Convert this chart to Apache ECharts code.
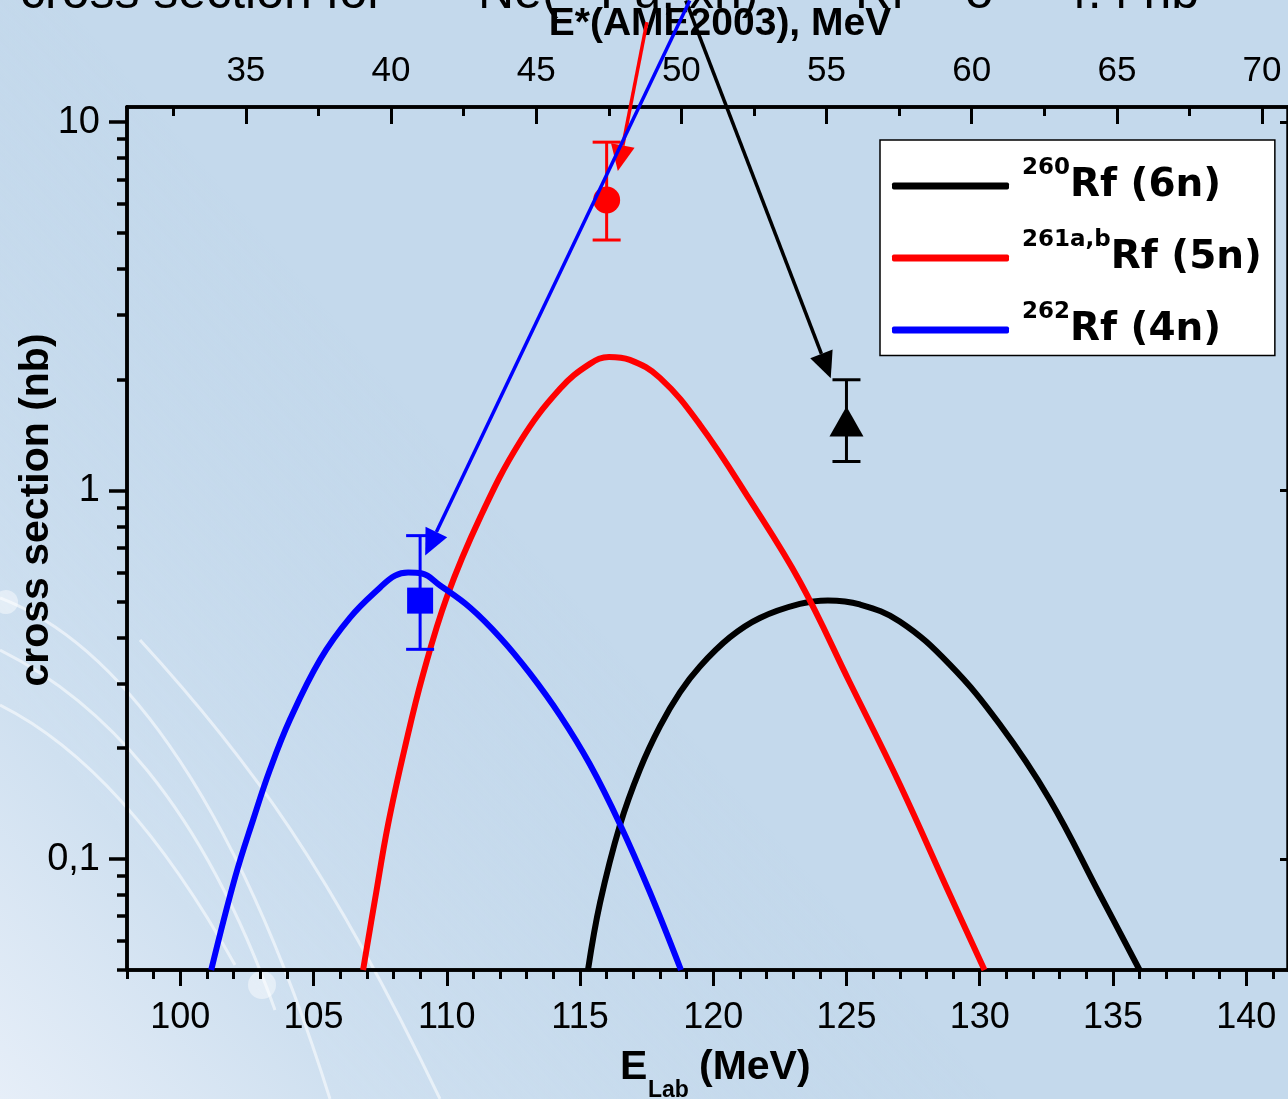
<!DOCTYPE html>
<html>
<head>
<meta charset="utf-8">
<script src="https://cdn.jsdelivr.net/npm/echarts@6/dist/echarts.min.js"></script>
<style>
html,body{margin:0;padding:0;background:#c4d9ec;}
#c{width:1288px;height:1099px;}
</style>
</head>
<body>
<div id="c"></div>
<script>
// ---------- data ----------
const energy6n = [115.3, 115.75, 116.5, 117.25, 118.0, 118.75, 119.5, 120.62, 121.75, 123.25, 124.3, 125.5, 127.0, 128.87, 130.75, 132.62, 134.5, 136.0];
const sigma6n  = [0.05, 0.076, 0.1237, 0.1753, 0.2293, 0.2836, 0.3334, 0.3996, 0.4512, 0.4926, 0.5035, 0.4911, 0.4416, 0.3376, 0.2322, 0.1454, 0.0804, 0.05];

const energy5n = [106.86, 107.31, 107.8, 108.44, 109.11, 110.01, 111.25, 112.75, 114.25, 115.37, 116.09, 116.87, 118.0, 119.5, 121.37, 123.25, 125.12, 127.0, 128.87, 130.18];
const sigma5n  = [0.05, 0.0779, 0.1244, 0.2024, 0.3172, 0.5161, 0.8451, 1.358, 1.89, 2.209, 2.307, 2.265, 2.024, 1.51, 0.945, 0.5667, 0.302, 0.1597, 0.0804, 0.05];

const energy4n = [101.16, 102.06, 102.74, 103.37, 104.12, 105.25, 106.37, 107.5, 108.06, 108.55, 109.07, 109.75, 110.87, 112.0, 113.12, 114.25, 115.37, 116.5, 117.62, 118.79];
const sigma4n  = [0.05, 0.0894, 0.1283, 0.1753, 0.2395, 0.3483, 0.4525, 0.5461, 0.588, 0.5995, 0.5957, 0.5529, 0.4819, 0.3996, 0.3192, 0.2456, 0.1809, 0.1244, 0.0814, 0.05];

// experimental points: 6n, 5n, 4n
const exptEnergy = [125.0, 116.0, 109.0];
const exptSigma  = [1.54, 6.15, 0.503];
const exptLow    = [1.2, 4.79, 0.371];
const exptHigh   = [2.0, 8.83, 0.755];

// annotation arrows (data units): from -> to
const arrowFrom = [[118.97, 21.4], [117.51, 18.7], [119.12, 21.4]];
const arrowTo   = [[124.41, 2.02], [116.42, 7.37], [109.19, 0.667]];

const seriesNames = ['260Rf (6n)', '261a,bRf (5n)', '262Rf (4n)'];
const legendSup   = ['260', '261a,b', '262'];
const legendMain  = ['Rf (6n)', 'Rf (5n)', 'Rf (4n)'];

const eLabMajor = [100, 105, 110, 115, 120, 125, 130, 135, 140];
const eStarMajor = [35, 40, 45, 50, 55, 60, 65, 70];
const yMajor = [0.1, 1, 10];

// ---------- derived ----------
const eLabMinor = []; for (let v = 98; v <= 141; v++) eLabMinor.push(v);
const eStarMinor = []; for (let v = 32.5; v <= 70; v += 5) eStarMinor.push(v);
const yMinor = []; [0.01, 0.1, 1].forEach(d => { for (let k = 2; k <= 9; k++) yMinor.push(+(k * d).toPrecision(3)); });
const zip = (a, b) => a.map((v, i) => [v, b[i]]);

const colors = ['#000000', '#ff0000', '#0000ff'];
const FONT = 'Liberation Sans, Arial, Helvetica, sans-serif';
const LFONT = 'DejaVu Sans, Liberation Sans, Arial, sans-serif';

const X_MIN = 98, X_MAX = 141.57, XS_MIN = 30.906, XS_MAX = 70.894, Y_MIN = 0.05, Y_MAX = 11;

const chart = echarts.init(document.getElementById('c'), null, {renderer: 'canvas'});

function base() {
  return {
    axisLine: {show: true, lineStyle: {color: '#000', width: 3.5}},
    splitLine: {show: false},
    axisLabel: {show: false},
    axisTick: {show: false}
  };
}
function ax(core, extra) { return Object.assign(core, base(), extra); }

const option = {
  animation: false,
  backgroundColor: 'transparent',
  grid: {left: 127, top: 107, width: 1162, height: 863, containLabel: false},
  xAxis: [
    ax({type: 'value', min: X_MIN, max: X_MAX, position: 'bottom'}, {
      axisTick: {show: true, inside: false, length: 16, lineStyle: {color: '#000', width: 3}, customValues: eLabMajor},
      axisLabel: {show: true, margin: 30, fontSize: 36, color: '#000', fontFamily: FONT, customValues: eLabMajor}
    }),
    ax({type: 'value', min: X_MIN, max: X_MAX, position: 'bottom'}, {
      axisTick: {show: true, inside: false, length: 9, lineStyle: {color: '#000', width: 3}, customValues: eLabMinor}
    }),
    ax({type: 'value', min: XS_MIN, max: XS_MAX, position: 'top'}, {
      axisTick: {show: true, inside: true, length: 17, lineStyle: {color: '#000', width: 3}, customValues: eStarMajor},
      axisLabel: {show: true, margin: 18, fontSize: 35, color: '#000', fontFamily: FONT, customValues: eStarMajor}
    }),
    ax({type: 'value', min: XS_MIN, max: XS_MAX, position: 'top'}, {
      axisTick: {show: true, inside: true, length: 9, lineStyle: {color: '#000', width: 3}, customValues: eStarMinor}
    })
  ],
  yAxis: [
    ax({type: 'log', logBase: 10, min: Y_MIN, max: Y_MAX, position: 'left'}, {
      axisTick: {show: true, inside: false, length: 18, lineStyle: {color: '#000', width: 3.5}, customValues: yMajor},
      axisLabel: {show: true, margin: 27, fontSize: 38, color: '#000', fontFamily: FONT, customValues: yMajor,
        formatter: v => String(v).replace('.', ',')}
    }),
    ax({type: 'log', logBase: 10, min: Y_MIN, max: Y_MAX, position: 'left'}, {
      axisTick: {show: true, inside: false, length: 10, lineStyle: {color: '#000', width: 3.5}, customValues: yMinor}
    }),
    ax({type: 'log', logBase: 10, min: Y_MIN, max: Y_MAX, position: 'right'}, {
      axisTick: {show: true, inside: true, length: 8, lineStyle: {color: '#000', width: 3}, customValues: yMajor}
    })
  ],
  legend: {
    data: seriesNames,
    orient: 'vertical',
    left: 880, top: 140,
    backgroundColor: '#ffffff',
    borderColor: '#000', borderWidth: 1.5,
    padding: [17, 13, 6, 12],
    itemGap: 23.5,
    itemWidth: 117, itemHeight: 7,
    icon: 'roundRect',
    selectedMode: false,
    formatter: name => {
      const i = seriesNames.indexOf(name);
      return '{sup|' + legendSup[i] + '}{main|' + legendMain[i] + '}';
    },
    textStyle: {
      fontFamily: LFONT,
      rich: {
        sup: {fontSize: 23, fontWeight: 'bold', color: '#000', fontFamily: LFONT, verticalAlign: 'top', lineHeight: 22, padding: [0, 0, 0, 8]},
        main: {fontSize: 39, fontWeight: 'bold', color: '#000', fontFamily: LFONT, lineHeight: 58}
      }
    }
  },
  series: [
    {name: seriesNames[0], type: 'line', data: zip(energy6n, sigma6n), smooth: 0.4, showSymbol: false,
      lineStyle: {color: colors[0], width: 6}, itemStyle: {color: colors[0]}, z: 3},
    {name: seriesNames[1], type: 'line', data: zip(energy5n, sigma5n), smooth: 0.4, showSymbol: false,
      lineStyle: {color: colors[1], width: 6}, itemStyle: {color: colors[1]}, z: 3},
    {name: seriesNames[2], type: 'line', data: zip(energy4n, sigma4n), smooth: 0.4, showSymbol: false,
      lineStyle: {color: colors[2], width: 6}, itemStyle: {color: colors[2]}, z: 3},
    {
      name: 'errors', type: 'custom', z: 5,
      data: exptEnergy.map((e, i) => [e, exptLow[i], exptHigh[i]]),
      encode: {x: 0, y: [1, 2]},
      renderItem: (params, api) => {
        const x = api.value(0);
        const lo = api.coord([x, api.value(1)]);
        const hi = api.coord([x, api.value(2)]);
        const c = colors[params.dataIndex];
        const hw = 14;
        const st = {stroke: c, lineWidth: 3};
        return {type: 'group', children: [
          {type: 'line', shape: {x1: lo[0], y1: lo[1], x2: hi[0], y2: hi[1]}, style: st},
          {type: 'line', shape: {x1: lo[0] - hw, y1: lo[1], x2: lo[0] + hw, y2: lo[1]}, style: st},
          {type: 'line', shape: {x1: hi[0] - hw, y1: hi[1], x2: hi[0] + hw, y2: hi[1]}, style: st}
        ]};
      }
    },
    {
      name: 'expt', type: 'scatter', z: 6,
      itemStyle: {opacity: 1},
      data: [
        {value: [exptEnergy[0], exptSigma[0]], symbol: 'triangle', symbolSize: [34, 30], itemStyle: {color: colors[0], opacity: 1}},
        {value: [exptEnergy[1], exptSigma[1]], symbol: 'circle', symbolSize: 27, itemStyle: {color: colors[1], opacity: 1}},
        {value: [exptEnergy[2], exptSigma[2]], symbol: 'rect', symbolSize: 26, itemStyle: {color: colors[2], opacity: 1}}
      ]
    }
  ],
  graphic: []
};

chart.setOption(option);

// ---------- decorations, titles and arrows ----------
const g = [];
g.push({type: 'rect', z: -20, silent: true, shape: {x: 0, y: 0, width: 1288, height: 1099},
  style: {fill: new echarts.graphic.LinearGradient(0, 1, 0.45, 0.55, [
    {offset: 0, color: '#e6eef8'}, {offset: 0.35, color: '#cfe0f0'}, {offset: 1, color: 'rgba(196,217,236,0)'}])}});
const streaks = [
  [0, 598, 110, 640, 230, 780, 330, 1099],
  [0, 650, 100, 700, 200, 800, 275, 1010],
  [0, 705, 80, 745, 160, 830, 235, 965],
  [140, 640, 250, 760, 330, 870, 440, 1099]
];
streaks.forEach(s => g.push({type: 'bezierCurve', z: -10, silent: true,
  shape: {x1: s[0], y1: s[1], cpx1: s[2], cpy1: s[3], cpx2: s[4], cpy2: s[5], x2: s[6], y2: s[7]},
  style: {stroke: 'rgba(255,255,255,0.55)', lineWidth: 3, fill: null}}));
g.push({type: 'circle', z: -10, silent: true, shape: {cx: 262, cy: 985, r: 14}, style: {fill: 'rgba(255,255,255,0.45)'}});
g.push({type: 'circle', z: -10, silent: true, shape: {cx: 6, cy: 602, r: 12}, style: {fill: 'rgba(255,255,255,0.45)'}});

// top slide caption (cut off by the page edge)
const caption = [[20, 'cross section for'], [478, 'Ne('], [600, 'Pu, xn)'], [855, 'Rf'], [965, '\u03C3'], [1060, '4.4 nb']];
caption.forEach(c => g.push({type: 'text', z: 1, silent: true,
  style: {x: c[0], y: -6, text: c[1], font: '50px ' + FONT, fill: '#000', align: 'left', verticalAlign: 'middle'}}));

// axis titles
g.push({type: 'text', z: 10, silent: true, style: {x: 720, y: 24, text: 'E*(AME2003), MeV',
  font: 'bold 39px ' + FONT, fill: '#000', align: 'center', verticalAlign: 'middle'}});
g.push({type: 'text', z: 10, silent: true, rotation: Math.PI / 2, x: 37, y: 510,
  style: {x: 0, y: 0, text: 'cross section (nb)', font: 'bold 41px ' + FONT, fill: '#000', align: 'center', verticalAlign: 'middle'}});
g.push({type: 'text', z: 10, silent: true, style: {x: 620, y: 1068, text: 'E', font: 'bold 41px ' + FONT, fill: '#000', align: 'left', verticalAlign: 'middle'}});
g.push({type: 'text', z: 10, silent: true, style: {x: 648, y: 1091, text: 'Lab', font: 'bold 23px ' + FONT, fill: '#000', align: 'left', verticalAlign: 'middle'}});
g.push({type: 'text', z: 10, silent: true, style: {x: 699, y: 1068, text: '(MeV)', font: 'bold 41px ' + FONT, fill: '#000', align: 'left', verticalAlign: 'middle'}});

// arrows
const finder = {xAxisIndex: 0, yAxisIndex: 0};
arrowFrom.forEach((f, i) => {
  const p1 = chart.convertToPixel(finder, f);
  const p2 = chart.convertToPixel(finder, arrowTo[i]);
  const dx = p2[0] - p1[0], dy = p2[1] - p1[1];
  const L = Math.sqrt(dx * dx + dy * dy);
  const ux = dx / L, uy = dy / L;
  const headL = 26, headW = 12;
  const bx = p2[0] - ux * headL, by = p2[1] - uy * headL;
  const c = colors[i];
  g.push({type: 'line', z: 20, silent: true, shape: {x1: p1[0], y1: p1[1], x2: bx, y2: by}, style: {stroke: c, lineWidth: 3.5}});
  g.push({type: 'polygon', z: 20, silent: true, shape: {points: [
    [p2[0], p2[1]], [bx - uy * headW, by + ux * headW], [bx + uy * headW, by - ux * headW]]}, style: {fill: c}});
});

chart.setOption({graphic: g});
</script>
</body>
</html>
